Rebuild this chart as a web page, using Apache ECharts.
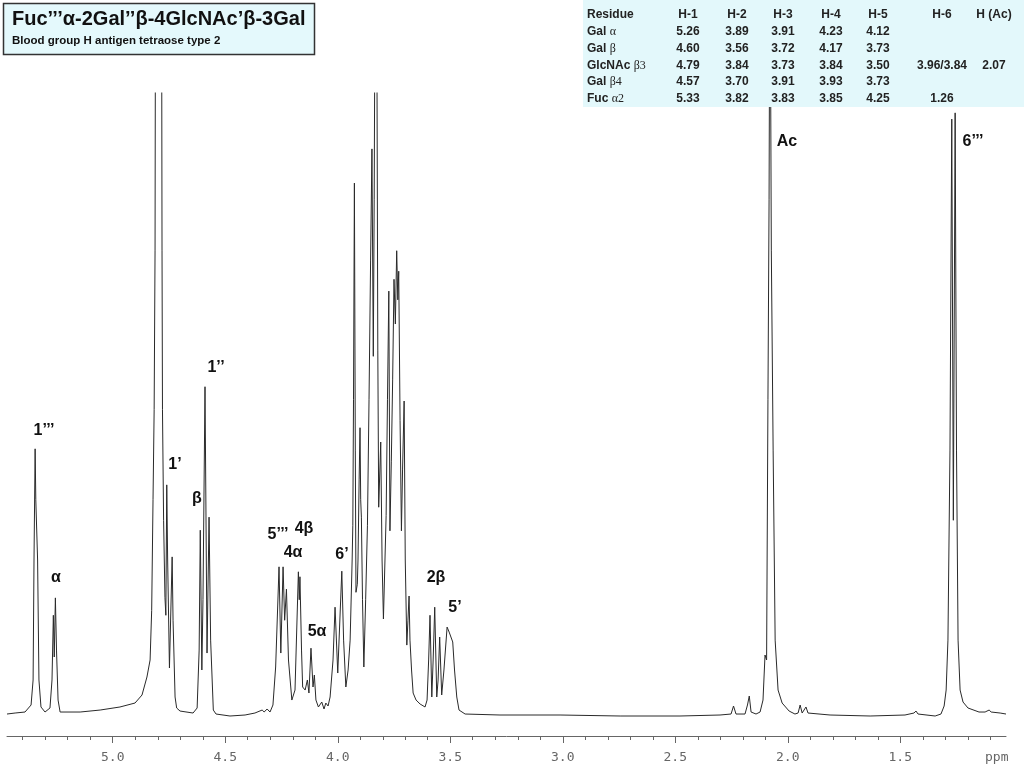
<!DOCTYPE html>
<html>
<head>
<meta charset="utf-8">
<script src="https://cdn.jsdelivr.net/npm/echarts@6/dist/echarts.min.js"></script>
<style>
html,body{margin:0;padding:0;background:#fff;}
#chart{width:1024px;height:768px;}
</style>
</head>
<body>
<div id="chart"></div>
<script>
// Chemical shift (ppm) of each sampled point of the trace
var ppm = [5.470,5.434,5.390,5.363,5.354,5.350,5.345,5.342,5.338,5.334,5.328,5.319,5.301,5.279,5.270,5.264,5.260,5.255,5.250,5.243,5.234,5.145,5.056,4.968,4.901,4.870,4.848,4.834,4.827,4.821,4.816,4.812,4.810,4.796,4.783,4.781,4.779,4.774,4.768,4.764,4.760,4.756,4.748,4.736,4.732,4.723,4.716,4.701,4.643,4.625,4.616,4.611,4.604,4.599,4.590,4.581,4.572,4.565,4.553,4.541,4.479,4.412,4.368,4.336,4.327,4.314,4.301,4.288,4.276,4.261,4.253,4.243,4.236,4.228,4.219,4.204,4.190,4.175,4.171,4.168,4.161,4.156,4.145,4.135,4.128,4.119,4.110,4.104,4.097,4.086,4.071,4.061,4.053,4.043,4.034,4.021,4.012,4.000,3.982,3.974,3.964,3.954,3.945,3.936,3.933,3.930,3.926,3.922,3.919,3.913,3.910,3.905,3.901,3.898,3.895,3.890,3.884,3.876,3.868,3.861,3.854,3.848,3.842,3.838,3.834,3.831,3.827,3.822,3.818,3.809,3.803,3.797,3.785,3.779,3.773,3.768,3.762,3.756,3.750,3.744,3.738,3.733,3.729,3.723,3.717,3.712,3.705,3.700,3.693,3.688,3.683,3.679,3.672,3.665,3.652,3.634,3.612,3.603,3.596,3.590,3.582,3.576,3.569,3.560,3.554,3.547,3.538,3.528,3.514,3.505,3.498,3.489,3.481,3.471,3.461,3.434,3.279,3.012,2.745,2.479,2.301,2.252,2.241,2.230,2.190,2.179,2.171,2.163,2.141,2.123,2.110,2.101,2.094,2.088,2.083,2.079,2.073,2.065,2.056,2.043,2.025,1.994,1.968,1.954,1.945,1.936,1.919,1.910,1.812,1.634,1.479,1.439,1.430,1.421,1.345,1.319,1.305,1.296,1.288,1.279,1.271,1.264,1.256,1.250,1.243,1.234,1.221,1.199,1.150,1.123,1.105,1.096,1.056,1.030];
// Relative intensity (% of plotted full scale); values above 100 run off the top
var intensity = [0,0.16,0.32,1.45,5.48,24.8,42.7,34.5,34.8,24.8,5.48,1.13,0.32,0.97,5.48,15.9,9.18,18.7,10.3,2.25,0.32,0.32,0.64,1.13,1.77,3.06,5.96,8.70,16.7,34.5,49.0,74.7,120,150,120,74.7,49.0,31.2,18.8,15.9,36.9,24.8,7.41,25.3,15.1,2.74,0.97,0.48,0.16,0.97,10.3,29.6,7.09,18.4,52.7,9.82,31.7,11.9,0.64,0,-0.32,-0.16,0.16,0.64,0.32,0.81,0.32,1.45,7.57,23.7,9.82,23.7,15.1,20.1,8.70,2.25,3.86,22.9,18.4,22.1,10.3,4.35,3.86,5.48,3.38,10.6,4.35,6.28,2.25,1.13,1.93,0.81,1.77,1.29,2.74,8.70,17.2,6.60,23.0,11.9,4.35,7.09,11.9,24.8,30.4,50.6,85.5,42.5,19.6,20.9,24.8,37.7,46.1,34.5,31.7,18.4,7.57,18.4,30.4,50.6,73.1,91.0,57.6,82.8,120,130,120,58.6,33.3,43.8,24.8,15.3,32.0,50.6,68.1,29.5,40.6,53.8,70.0,62.8,74.6,66.7,71.3,47.3,29.5,39.3,50.4,24.8,11.1,15.1,19.0,11.9,7.09,3.38,2.25,1.61,1.13,2.25,8.70,15.9,2.74,8.70,17.2,2.74,5.48,12.4,3.06,7.09,14.0,13.2,13.0,11.6,7.09,2.74,0.64,0,-0.16,-0.16,-0.32,-0.32,-0.16,0,1.29,0,0,1.45,2.90,0.32,0,0.32,2.25,9.50,8.70,50.6,82.8,130,74.7,42.5,11.9,3.86,1.77,0.48,0,0.16,1.45,0.16,1.13,0.16,-0.16,-0.32,-0.16,0.16,0.48,0,-0.32,0,1.29,3.86,11.9,42.5,95.8,31.2,96.8,42.5,11.9,3.86,1.93,0.97,0.32,0.32,0.64,0.32,0.16,0];

// Axis tick values
var majorTicks = [5.0, 4.5, 4.0, 3.5, 3.0, 2.5, 2.0, 1.5];
var minorTicks = [5.4,5.3,5.2,5.1,5.0,4.9,4.8,4.7,4.6,4.5,4.4,4.3,4.2,4.1,4.0,3.9,3.8,3.7,3.6,3.5,3.4,3.3,3.2,3.1,3.0,2.9,2.8,2.7,2.6,2.5,2.4,2.3,2.2,2.1,2.0,1.9,1.8,1.7,1.6,1.5,1.4,1.3,1.2,1.1];

// Peak assignment labels
var peakLabels = ['1’’’','α','1’','β','1’’','5’’’','4β','4α','5α','6’','2β','5’','Ac','6’’’'];

// Shift table
var tableHeader = ['Residue','H-1','H-2','H-3','H-4','H-5','H-6','H (Ac)'];
var residueNames = [['Gal ','α'],['Gal ','β'],['GlcNAc ','β3'],['Gal ','β4'],['Fuc ','α2']];
var rowGalA   = ['5.26','3.89','3.91','4.23','4.12','',''];
var rowGalB   = ['4.60','3.56','3.72','4.17','3.73','',''];
var rowGlcNAc = ['4.79','3.84','3.73','3.84','3.50','3.96/3.84','2.07'];
var rowGalB4  = ['4.57','3.70','3.91','3.93','3.73','',''];
var rowFuc    = ['5.33','3.82','3.83','3.85','4.25','1.26',''];
var tableRows = [rowGalA,rowGalB,rowGlcNAc,rowGalB4,rowFuc];

var titleText = 'Fuc’’’α-2Gal’’β-4GlcNAc’β-3Gal';
var subtitleText = 'Blood group H antigen tetraose type 2';

var series = [];
for (var i = 0; i < ppm.length; i++) series.push([ppm[i], intensity[i]]);

// layout for labels / table
var labelPos = [[44,431],[56,578],[175,465],[197,499],[216,368],[278,535],[304,529],[293,553],[317,632],[342,555],[436,578],[455,608],[787,142],[973,142]];
var colX = [688,737,783,831,878,942,994];
var rowY = [15,32,49,66,82,99];

var graphics = [];
graphics.push({type:'rect', z:100, shape:{x:3.5,y:3.5,width:311,height:51}, style:{fill:'#e4f9fc', stroke:'#333', lineWidth:1.5}});
graphics.push({type:'text', z:101, x:12, y:19, style:{text:titleText, font:'bold 20px "Liberation Sans", Arial, sans-serif', fill:'#111', verticalAlign:'middle', align:'left'}});
graphics.push({type:'text', z:101, x:12, y:41, style:{text:subtitleText, font:'bold 11.5px "Liberation Sans", Arial, sans-serif', fill:'#111', verticalAlign:'middle', align:'left'}});
graphics.push({type:'rect', z:100, shape:{x:583,y:0,width:441,height:107}, style:{fill:'#e3f8fb', stroke:null}});
var tfont = 'bold 12px "Liberation Sans", Arial, sans-serif';
graphics.push({type:'text', z:101, x:587, y:rowY[0], style:{text:tableHeader[0], font:tfont, fill:'#222', verticalAlign:'middle', align:'left'}});
for (var c = 1; c < tableHeader.length; c++) {
  graphics.push({type:'text', z:101, x:colX[c-1], y:rowY[0], style:{text:tableHeader[c], font:tfont, fill:'#222', verticalAlign:'middle', align:'center'}});
}
for (var r = 0; r < tableRows.length; r++) {
  graphics.push({type:'text', z:101, x:587, y:rowY[r+1], style:{
    text:'{b|' + residueNames[r][0] + '}{g|' + residueNames[r][1] + '}',
    verticalAlign:'middle', align:'left',
    rich:{ b:{font:tfont, fill:'#222'}, g:{font:'12px "Liberation Serif", serif', fill:'#222'} }
  }});
  for (var c2 = 0; c2 < tableRows[r].length; c2++) {
    if (!tableRows[r][c2]) continue;
    graphics.push({type:'text', z:101, x:colX[c2], y:rowY[r+1], style:{text:tableRows[r][c2], font:tfont, fill:'#222', verticalAlign:'middle', align:'center'}});
  }
}
for (var k = 0; k < peakLabels.length; k++) {
  graphics.push({type:'text', z:90, x:labelPos[k][0], y:labelPos[k][1], style:{text:peakLabels[k], font:'bold 16px "Liberation Sans", Arial, sans-serif', fill:'#111', align:'center', verticalAlign:'middle'}});
}
graphics.push({type:'text', z:90, x:985, y:758, style:{text:'ppm', font:'13px "DejaVu Sans Mono", monospace', fill:'#666', align:'left', verticalAlign:'middle'}});

var chart = echarts.init(document.getElementById('chart'), null, {renderer:'canvas'});
chart.setOption({
  animation:false,
  backgroundColor:'#fff',
  grid:{left:7, right:18, top:93, bottom:32, containLabel:false},
  xAxis:[{
    type:'value', inverse:true, min:1.03, max:5.47, position:'bottom',
    axisLine:{show:true, onZero:false, lineStyle:{color:'#666', width:1}},
    axisTick:{show:true, customValues:majorTicks, length:7, inside:false, lineStyle:{color:'#666'}},
    axisLabel:{show:true, customValues:majorTicks, margin:15, color:'#666', fontFamily:'"DejaVu Sans Mono", monospace', fontSize:13,
      formatter:function(v){return Number(v).toFixed(1);}},
    splitLine:{show:false}
  },{
    type:'value', inverse:true, min:1.03, max:5.47, position:'bottom',
    axisLine:{show:false, onZero:false},
    axisTick:{show:true, customValues:minorTicks, length:4, inside:false, lineStyle:{color:'#666'}},
    axisLabel:{show:false},
    splitLine:{show:false}
  }],
  yAxis:{type:'value', min:-3.54, max:100, show:false, splitLine:{show:false}},
  series:[{
    type:'line', data:series, xAxisIndex:0, showSymbol:false, symbol:'none', clip:true,
    lineStyle:{color:'#2a2a2a', width:1}, z:10
  }],
  graphic:graphics
});
</script>
</body>
</html>
